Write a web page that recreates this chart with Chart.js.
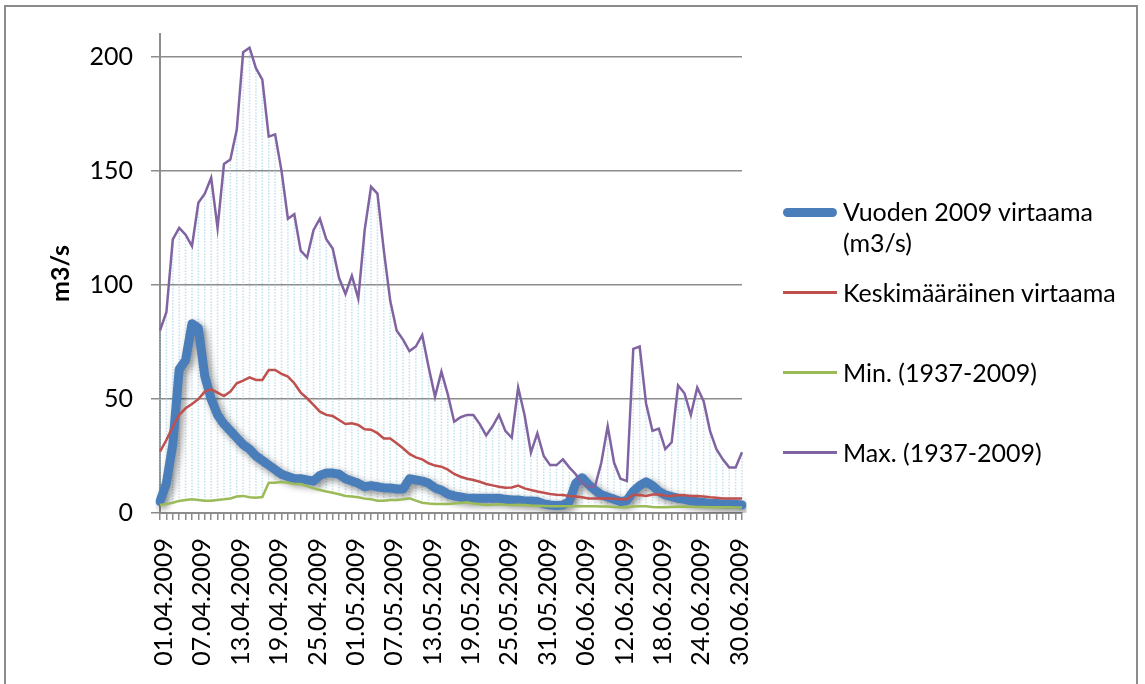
<!DOCTYPE html>
<html>
<head>
<meta charset="utf-8">
<script src="https://cdn.jsdelivr.net/npm/chart.js@4"></script>
<style>
  body { margin: 0; background: #fff; }
  #wrap { position: relative; width: 1145px; height: 684px; overflow: hidden; font-family: Lato, sans-serif; }
  #frame { position: absolute; left: 4px; top: 5px; width: 1134px; height: 720px; border: 2px solid #8c8c8c; box-sizing: border-box; }
  #flowChart { position: absolute; left: 0; top: 0; }
  .lg { position: absolute; left: 843px; font-size: 25px; line-height: 31px; color: #000; white-space: nowrap; }
  .sw { position: absolute; left: 783px; width: 54px; }
</style>
</head>
<body>
<div id="wrap">
  <div id="frame"></div>
  <canvas id="flowChart" width="1145" height="684"></canvas>
  <div class="sw" style="top:208px;height:9px;border-radius:4.5px;background:#4a7ebb;"></div>
  <div class="lg" style="top:196px;">Vuoden 2009 virtaama<br>(m3/s)</div>
  <div class="sw" style="top:291px;height:2.5px;background:#c0504d;"></div>
  <div class="lg" style="top:277px;">Keskimääräinen virtaama</div>
  <div class="sw" style="top:371px;height:2.5px;background:#9bbb59;"></div>
  <div class="lg" style="top:357px;">Min. (1937-2009)</div>
  <div class="sw" style="top:451px;height:2.5px;background:#8064a2;"></div>
  <div class="lg" style="top:437px;">Max. (1937-2009)</div>
</div>
<script>
const days = [
  '01.04.2009','02.04.2009','03.04.2009','04.04.2009','05.04.2009','06.04.2009','07.04.2009','08.04.2009','09.04.2009','10.04.2009',
  '11.04.2009','12.04.2009','13.04.2009','14.04.2009','15.04.2009','16.04.2009','17.04.2009','18.04.2009','19.04.2009','20.04.2009',
  '21.04.2009','22.04.2009','23.04.2009','24.04.2009','25.04.2009','26.04.2009','27.04.2009','28.04.2009','29.04.2009','30.04.2009',
  '01.05.2009','02.05.2009','03.05.2009','04.05.2009','05.05.2009','06.05.2009','07.05.2009','08.05.2009','09.05.2009','10.05.2009',
  '11.05.2009','12.05.2009','13.05.2009','14.05.2009','15.05.2009','16.05.2009','17.05.2009','18.05.2009','19.05.2009','20.05.2009',
  '21.05.2009','22.05.2009','23.05.2009','24.05.2009','25.05.2009','26.05.2009','27.05.2009','28.05.2009','29.05.2009','30.05.2009',
  '31.05.2009','01.06.2009','02.06.2009','03.06.2009','04.06.2009','05.06.2009','06.06.2009','07.06.2009','08.06.2009','09.06.2009',
  '10.06.2009','11.06.2009','12.06.2009','13.06.2009','14.06.2009','15.06.2009','16.06.2009','17.06.2009','18.06.2009','19.06.2009',
  '20.06.2009','21.06.2009','22.06.2009','23.06.2009','24.06.2009','25.06.2009','26.06.2009','27.06.2009','28.06.2009','29.06.2009',
  '30.06.2009','01.07.2009'
];

const flow2009 = [
  5, 13, 30, 63, 67, 83, 81, 60, 50, 43,
  39, 36, 33, 30, 28, 25, 23, 21, 19, 17,
  16, 15, 15, 14.5, 14, 16.5, 17.5, 17.5, 17, 15,
  14, 13, 11.5, 12, 11.5, 11, 11, 10.5, 10.5, 15,
  14.5, 14, 13, 11, 10, 8.3, 7.5, 7, 6.5, 6.5,
  6.5, 6.5, 6.5, 6.5, 6, 5.7, 5.7, 5.3, 5.3, 5,
  4, 3.5, 3.3, 3.5, 5, 13, 15.5, 12.5, 10, 8,
  7, 6, 5, 5.5, 9.5, 12, 13.7, 12, 9.5, 7.9,
  7.2, 6.4, 6, 5.3, 5, 4.6, 4.2, 4.2, 4, 4,
  3.8, 3.5
];

const meanFlow = [
  26.9, 32, 37.9, 43, 45.9, 47.8, 49.9, 53.2, 54.2, 52.8,
  51.3, 53.2, 56.9, 58, 59.5, 58.3, 58.3, 62.7, 62.7, 61,
  59.8, 56.9, 52.8, 50.3, 47.4, 44.4, 43, 42.5, 40.8, 39,
  39.3, 38.6, 36.7, 36.5, 35, 32.7, 32.7, 30.6, 28.4, 25.9,
  24.4, 23.5, 21.8, 20.8, 20.3, 19, 17.1, 15.9, 15, 14.5,
  13.7, 12.7, 12.1, 11.5, 11.1, 11.2, 12, 10.8, 10.1, 9.4,
  8.9, 8.3, 8, 7.9, 7.5, 7.2, 6.9, 6.4, 6.4, 6.5,
  6.4, 6.3, 6, 6, 7.9, 7.9, 7.5, 8.1, 8.1, 7.6,
  7.5, 7.9, 7.8, 7.5, 7.5, 7.2, 6.9, 6.7, 6.4, 6.4,
  6.4, 6.4
];

const minFlow = [
  3.5, 3.9, 4.5, 5.3, 5.7, 6, 5.7, 5.4, 5.4, 5.7,
  6, 6.4, 7.2, 7.5, 6.9, 6.7, 7, 13.3, 13.3, 13.6,
  13.3, 12.7, 12.7, 11.8, 10.8, 10.1, 9.4, 8.9, 8.2, 7.5,
  7.2, 6.9, 6.3, 6, 5.4, 5.4, 5.7, 5.7, 6, 6.4,
  5.4, 4.5, 4.2, 4, 4, 4, 4.2, 4.4, 4.7, 4.2,
  3.8, 3.5, 3.6, 3.8, 3.6, 3.5, 3.6, 3.5, 3.3, 3.2,
  3.1, 3, 3, 3, 3, 3, 3, 3, 3, 2.8,
  2.8, 2.6, 2.5, 2.5, 2.8, 3, 3, 2.6, 2.5, 2.5,
  2.6, 2.7, 2.8, 2.7, 2.6, 2.6, 2.5, 2.5, 2.5, 2.5,
  2.4, 2.4
];

const maxFlow = [
  80, 88, 120, 125, 122, 117, 136, 140, 147, 125,
  153, 155, 168, 202, 204, 195, 190, 165, 166, 150,
  129, 131, 115, 112, 124, 129, 120, 116, 103, 96,
  104, 94, 124, 143, 140, 115, 93, 80, 76, 71,
  73, 78, 64, 51, 62, 52, 40, 42, 43, 43,
  39, 34, 38, 43, 36, 33, 55, 43, 26.5, 35,
  25, 21, 21, 23.5, 20, 17, 13, 11.5, 11.5, 22,
  38, 22, 15, 14, 72, 73, 48, 36, 37, 28,
  31, 56, 52.5, 43, 55, 49, 36, 28, 23.5, 20,
  20, 26.6
];

const yTicks = [0, 50, 100, 150, 200];

// dotted high-low lines between lowest and highest series value of each day
const highLow = {
  id: 'highLow',
  beforeDatasetsDraw(chart) {
    const {ctx, scales: {x, y}} = chart;
    ctx.save();
    ctx.strokeStyle = 'rgba(150, 205, 225, 0.6)';
    ctx.lineWidth = 1.5;
    ctx.setLineDash([1.5, 1.5]);
    days.forEach((d, i) => {
      const lo = Math.min(flow2009[i], meanFlow[i], minFlow[i], maxFlow[i]);
      const hi = Math.max(flow2009[i], meanFlow[i], minFlow[i], maxFlow[i]);
      const px = x.getPixelForValue(i);
      ctx.beginPath();
      ctx.moveTo(px, y.getPixelForValue(lo));
      ctx.lineTo(px, y.getPixelForValue(hi));
      ctx.stroke();
    });
    ctx.restore();
  }
};

// soft shadow under the 2009 line
const lineShadow = {
  id: 'lineShadow',
  beforeDatasetDraw(chart, args) {
    if (args.index !== 0) return;
    const ctx = chart.ctx;
    ctx.save();
    ctx.shadowColor = 'rgba(0,0,0,0.45)';
    ctx.shadowBlur = 7;
    ctx.shadowOffsetX = 3;
    ctx.shadowOffsetY = 3;
  },
  afterDatasetDraw(chart, args) {
    if (args.index !== 0) return;
    chart.ctx.restore();
  }
};

Chart.defaults.font.family = 'Lato, sans-serif';
Chart.defaults.color = '#000';

const ctx = document.getElementById('flowChart').getContext('2d');
const flowChart = new Chart(ctx, {
  type: 'line',
  data: {
    labels: days,
    datasets: [
      {
        label: 'Vuoden 2009 virtaama (m3/s)',
        data: flow2009,
        borderColor: '#4a7ebb',
        borderWidth: 9,
        borderCapStyle: 'round',
        borderJoinStyle: 'round',
        order: 4
      },
      {
        label: 'Keskimääräinen virtaama',
        data: meanFlow,
        borderColor: '#c0504d',
        borderWidth: 2.5,
        order: 3
      },
      {
        label: 'Min. (1937-2009)',
        data: minFlow,
        borderColor: '#9bbb59',
        borderWidth: 2.5,
        order: 2
      },
      {
        label: 'Max. (1937-2009)',
        data: maxFlow,
        borderColor: '#8064a2',
        borderWidth: 2.5,
        order: 1
      }
    ]
  },
  options: {
    responsive: false,
    animation: false,
    layout: { padding: { left: 0, right: 403, top: 34, bottom: 0 } },
    elements: { point: { radius: 0 }, line: { tension: 0, fill: false } },
    plugins: { legend: { display: false }, tooltip: { enabled: false } },
    scales: {
      x: {
        offset: false,
        grid: { drawOnChartArea: false, drawTicks: true, tickLength: 7, color: '#8c8c8c', lineWidth: 1.5 },
        border: { color: '#8c8c8c', width: 2 },
        ticks: {
          autoSkip: false,
          minRotation: 90,
          maxRotation: 90,
          padding: 18,
          labelOffset: 4,
          font: { size: 25 },
          callback: (v, i) => (i % 6 === 0 ? days[i] : '')
        },
        afterFit: (scale) => { scale.height = 171; }
      },
      y: {
        min: 0,
        max: 210,
        afterBuildTicks: (axis) => { axis.ticks = yTicks.map(v => ({ value: v })); },
        grid: { color: '#8c8c8c', lineWidth: 1.5, tickLength: 9 },
        border: { color: '#8c8c8c', width: 2 },
        ticks: { padding: 18, font: { size: 25 } },
        title: { display: true, text: 'm3/s', font: { size: 25, weight: 'bold' }, padding: { top: 46, bottom: 0 } },
        afterFit: (scale) => { scale.width = 160; }
      }
    }
  },
  plugins: [highLow, lineShadow]
});
</script>
</body>
</html>
